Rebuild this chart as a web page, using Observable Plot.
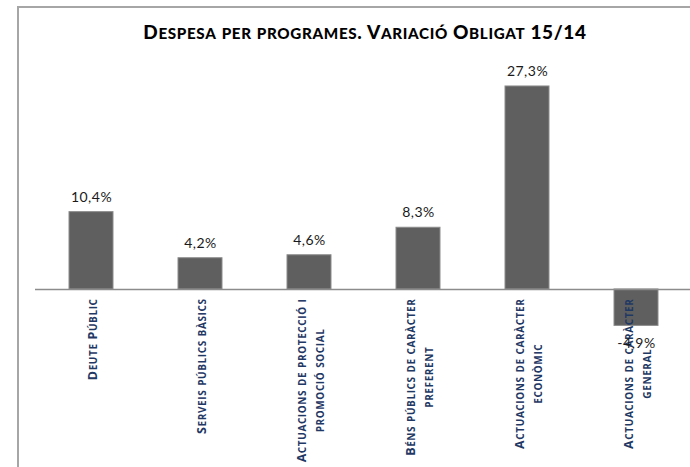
<!DOCTYPE html>
<html><head><meta charset="utf-8">
<script src="https://cdn.jsdelivr.net/npm/d3@7"></script>
<script src="https://cdn.jsdelivr.net/npm/@observablehq/plot@0.6"></script>
<style>
html,body{margin:0;padding:0;background:#fff;}
#wrap{position:relative;width:690px;height:467px;overflow:hidden;background:#fff;}
#frame{position:absolute;left:17px;top:6px;width:800px;height:600px;border-left:2px solid #a6a6a6;border-top:2px solid #a6a6a6;}
#title{position:absolute;left:17px;width:696px;top:20px;text-align:center;font-family:Lato;font-weight:900;font-size:19px;letter-spacing:0.65px;line-height:24px;color:#000;white-space:nowrap;}
#chart{position:absolute;left:0;top:0;}
#chart svg text.xlab{letter-spacing:0.6px;}
#chart svg text.vlab{letter-spacing:0.5px;}
</style></head><body>
<div id="wrap"><div id="frame"></div><div id="chart"></div><div id="title">Despesa per programes. Variació Obligat 15/14</div></div>
<script>
const categories = ["Deute Públic", "Serveis públics bàsics", "Actuacions de protecció i\npromoció social", "Béns públics de caràcter\npreferent", "Actuacions de caràcter\neconòmic", "Actuacions de caràcter\ngeneral"];
const values = [10.4, 4.2, 4.6, 8.3, 27.3, -4.9];
const valueLabels = ["10,4%", "4,2%", "4,6%", "8,3%", "27,3%", "-4,9%"];

const data = categories.map((c, i) => ({cat: c, value: values[i], label: valueLabels[i]}));
const LABEL_COLOR = "#1f3864";
const SC_RATIO = 0.8;

function runsOf(s) {
  const runs = [];
  for (const ch of s) {
    const low = ch !== ch.toUpperCase();
    if (runs.length && runs[runs.length - 1].low === low) runs[runs.length - 1].t += ch;
    else runs.push({low, t: ch});
  }
  return runs;
}
function smallCaps(el, tag, ns) {
  const s = el.textContent;
  el.textContent = "";
  for (const r of runsOf(s)) {
    const sp = ns ? document.createElementNS(ns, tag) : document.createElement(tag);
    if (r.low) sp.style.fontSize = SC_RATIO + "em";
    sp.textContent = r.t.toUpperCase();
    el.appendChild(sp);
  }
}

const chart = Plot.plot({
  width: 690, height: 467,
  marginLeft: 35, marginRight: -2, marginTop: 65.9, marginBottom: 66.5,
  style: {background: "transparent", overflow: "visible"},
  x: {domain: categories, paddingInner: 0.6, paddingOuter: 0.3, axis: null},
  y: {domain: [-15, 30], axis: null},
  marks: [
    Plot.barY(data, {x: "cat", y: "value", fill: "#5f5f5f", stroke: "#8c8c8c", strokeWidth: 1}),
    Plot.ruleY([0], {stroke: "#8c8c8c", strokeWidth: 1.5}),
    Plot.text(data, {
      x: "cat", y: () => 0, text: "cat",
      rotate: -90, textAnchor: "middle", lineAnchor: "middle", lineHeight: 1.4,
      dy: 9, fontFamily: "Open Sans", fontSize: 12.5, fontWeight: "bold", fill: LABEL_COLOR
    }),
    Plot.text(data.filter(d => d.value >= 0), {x: "cat", y: "value", text: "label", dy: -15, fontFamily: "Lato", fontSize: 14, fill: "#1a1a1a"}),
    Plot.text(data.filter(d => d.value < 0), {x: "cat", y: "value", text: "label", dy: 18, fontFamily: "Lato", fontSize: 14, fill: "#1a1a1a"})
  ]
});
document.getElementById("chart").appendChild(chart);

const SVGNS = "http://www.w3.org/2000/svg";
d3.select(chart).selectAll("text").each(function() {
  const f = this.getAttribute("fill") || (this.parentNode && this.parentNode.getAttribute("fill"));
  if (f !== LABEL_COLOR) { this.classList.add("vlab"); return; }
  this.classList.add("xlab");
  const tspans = Array.from(this.children).filter(n => n.tagName === "tspan");
  const lines = tspans.length ? tspans : [this];
  lines.forEach(l => smallCaps(l, "tspan", SVGNS));
  const L = Math.max(...lines.map(l => l.getComputedTextLength()));
  const tr = this.getAttribute("transform") || "";
  this.setAttribute("transform", `translate(0,${L / 2}) ${tr}`);
});
smallCaps(document.getElementById("title"), "span");
</script>
</body></html>
